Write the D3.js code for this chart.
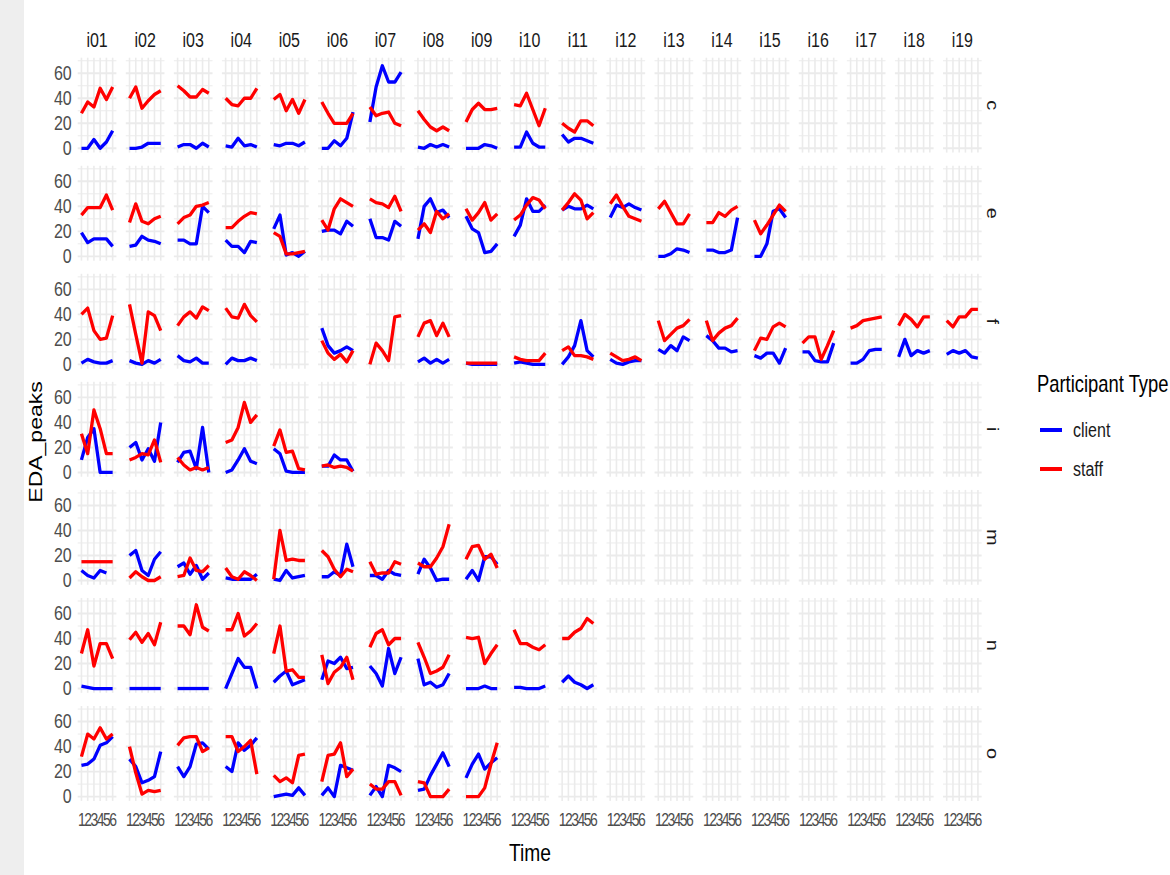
<!DOCTYPE html>
<html>
<head>
<meta charset="utf-8">
<script src="https://cdn.jsdelivr.net/npm/d3@7"></script>
<style>
  html, body { margin: 0; padding: 0; background: #ffffff; }
  svg { display: block; }
  text { font-family: "Liberation Sans", Arial, sans-serif; }
</style>
</head>
<body>
<svg id="chart" width="1170" height="875"></svg>
<script>
// ---------------- DATA ----------------
const rowKeys = ["c", "e", "f", "i", "m", "n", "o"];
const colKeys = ["i01","i02","i03","i04","i05","i06","i07","i08","i09","i10",
                 "i11","i12","i13","i14","i15","i16","i17","i18","i19"];
const times = [1, 2, 3, 4, 5, 6];
const yTickValues = [0, 20, 40, 60];
const participantTypes = ["client", "staff"];

// each row: one array per column (i01..), null = no data in that panel
const client_c = [[0,0,7,0,5,14],[0,0,1,4,4,4],[1,3,3,0,4,1],[2,1,8,2,3,1],[3,2,4,4,2,5],
  [0,0,6,2,8,29],[21,49,66,53,53,61],[1,0,3,1,3,1],[0,0,0,3,2,0],[1,1,13,4,1,1],[11,5,8,8,6,4]];
const staff_c = [[28,37,33,48,39,49],[40,49,32,38,43,46],[50,46,41,41,47,44],[40,35,34,40,40,48],
  [39,43,30,39,28,39],[37,28,20,20,20,28],[33,26,28,29,20,18],[30,23,17,14,17,14],
  [21,31,36,31,31,32],[35,34,44,31,18,32],[20,16,13,22,22,18]];

const client_e = [[19,11,14,14,14,8],[8,9,16,13,12,10],[13,13,10,10,40,35],[13,8,8,3,12,11],
  [22,33,1,3,0,4],[20,21,21,18,28,24],[30,15,15,13,28,24],[14,40,46,35,37,31],[32,22,19,3,4,10],
  [16,25,46,36,36,41],[37,40,38,38,41,38],[31,41,39,42,39,37],[0,0,2,6,5,3],[5,5,3,3,5,31],
  [0,0,10,36,38,31]];
const staff_e = [[33,39,39,39,49,37],[27,42,28,26,30,32],[26,31,33,40,41,43],[23,23,28,32,35,34],
  [19,16,2,2,3,4],[29,21,38,46,43,40],[46,43,42,39,48,36],[21,26,19,36,30,34],[38,29,35,43,29,34],
  [29,33,41,47,45,38],[37,43,50,45,30,35],[42,49,40,32,30,28],[38,44,35,26,26,34],
  [27,27,35,32,37,40],[29,18,25,33,41,36]];

const client_f = [[1,4,2,1,1,3],[3,1,0,3,1,4],[7,3,2,5,1,1],[0,5,3,3,5,3],null,
  [29,15,9,11,14,11],null,[2,5,1,4,1,4],[1,0,0,0,0,0],[1,2,1,0,0,0],[0,6,15,35,11,6],
  [4,1,0,2,3,3],[12,9,15,11,22,19],[23,19,13,13,10,11],[7,5,9,9,1,13],[10,10,3,2,2,17],
  [1,1,4,11,12,12],[6,20,7,11,9,11],[8,11,9,11,6,5]];
const staff_f = [[40,45,27,20,21,39],[48,24,1,42,39,27],[31,38,42,37,46,43],[45,38,37,48,39,34],null,
  [19,9,4,8,2,11],[0,17,11,3,38,39],[22,33,35,23,33,22],[1,1,1,1,1,1],[6,4,3,3,3,9],
  [11,14,7,7,6,4],[9,6,3,4,6,3],[35,19,24,29,31,36],[35,19,25,29,31,37],[11,21,20,30,33,30],
  [17,22,22,4,15,27],[29,31,35,36,37,38],[31,40,36,30,38,38],[35,30,38,38,44,44]];

const client_i = [[10,28,35,0,0,0],[20,24,10,19,9,40],[8,16,17,3,36,0],[0,2,10,19,9,7],
  [19,15,1,0,0,0],[5,5,14,10,10,1]];
const staff_i = [[31,15,50,35,15,15],[10,12,15,14,26,8],[12,6,2,4,2,4],[24,26,36,56,40,46],
  [21,34,16,17,3,2],[5,6,4,5,4,1]];

const client_m = [[8,4,2,8,6,null],[20,24,8,4,17,23],[11,14,5,12,1,6],[2,1,1,1,1,5],
  [1,0,8,2,3,4],[3,3,7,4,29,11],[4,4,1,8,5,4],[5,17,10,0,1,1],[1,8,0,19,19,13]];
const staff_m = [[15,15,15,15,15,15],[2,7,3,0,0,3],[3,4,18,8,7,12],[10,3,1,7,4,0],
  [1,40,16,17,16,16],[24,19,9,3,9,7],[15,5,6,6,15,13],[14,11,11,18,27,45],[17,27,28,17,21,10]];

const client_n = [[2,1,0,0,0,0],[0,0,0,0,0,0],[0,0,0,0,0,0],[0,12,24,17,17,0],[5,10,14,3,5,7],
  [7,22,20,25,16,17],[18,12,2,32,12,25],[24,3,5,1,3,12],[0,0,0,2,0,0],[1,1,0,0,0,2],
  [5,10,5,3,0,3]];
const staff_n = [[28,47,18,36,36,24],[39,45,37,44,35,53],[50,50,43,67,49,46],[47,47,60,42,46,52],
  [28,50,14,15,9,9],[27,4,13,17,25,7],[33,44,47,35,40,40],[37,25,12,14,17,27],
  [41,40,41,20,28,35],[47,36,36,33,31,35],[40,40,45,48,56,52]];

const client_o = [[25,26,30,41,43,48],[30,24,11,13,16,36],[24,16,24,42,43,38],[24,20,43,37,41,47],
  [0,1,2,1,7,1],[1,7,0,25,23,21],[1,8,0,25,23,20],[5,6,17,26,35,24],[15,26,34,22,27,31]];
const staff_o = [[32,50,46,55,46,50],[40,19,2,5,4,5],[41,47,48,48,36,39],[48,48,36,40,45,18],
  [17,12,15,11,33,34],[12,33,34,43,16,22],[10,6,6,12,12,1],[12,11,0,0,0,6],[0,0,0,7,26,43]];

const clientRows = [client_c, client_e, client_f, client_i, client_m, client_n, client_o];
const staffRows  = [staff_c, staff_e, staff_f, staff_i, staff_m, staff_n, staff_o];

// ---------------- LAYOUT ----------------
const W = 1170, H = 875;
const panelLeft0 = 77.7, colStep = 48.07, panelW = 38.7;
const panelTop0 = 57.7, rowStep = 108.05, panelH = 94.9;
const SX = 0.8; // horizontal compression of the glyphs in the reference
const colors = { client: "#0000FF", staff: "#FF0000" };
const gridCol = "#EBEBEB";

const svg = d3.select("#chart");
svg.append("rect").attr("width", W).attr("height", H).attr("fill", "#ffffff");
svg.append("rect").attr("x", 0).attr("y", 0).attr("width", 24).attr("height", H).attr("fill", "#EEEEEE");

const x = d3.scaleLinear().domain([0.4, 6.6]).range([0, panelW]);
const y = d3.scaleLinear().domain([-3.45, 72.45]).range([panelH, 0]);
const line = d3.line().defined(d => d != null).x((d, i) => x(times[i])).y(d => y(d));

const panelX = ci => panelLeft0 + ci * colStep;
const panelY = ri => panelTop0 + ri * rowStep;

rowKeys.forEach((rk, ri) => {
  colKeys.forEach((ck, ci) => {
    const g = svg.append("g").attr("transform", `translate(${panelX(ci)},${panelY(ri)})`);
    g.selectAll("line.hmin").data([10, 30, 50, 70]).join("line")
      .attr("x1", 0).attr("x2", panelW).attr("y1", d => y(d)).attr("y2", d => y(d))
      .attr("stroke", gridCol).attr("stroke-width", 1);
    g.selectAll("line.hmaj").data(yTickValues).join("line")
      .attr("x1", 0).attr("x2", panelW).attr("y1", d => y(d)).attr("y2", d => y(d))
      .attr("stroke", gridCol).attr("stroke-width", 1.9);
    g.selectAll("line.v").data(times).join("line")
      .attr("x1", d => x(d)).attr("x2", d => x(d)).attr("y1", 0).attr("y2", panelH)
      .attr("stroke", gridCol).attr("stroke-width", 1.6);

    const cRow = clientRows[ri], sRow = staffRows[ri];
    const series = [
      { type: "client", vals: ci < cRow.length ? cRow[ci] : null },
      { type: "staff", vals: ci < sRow.length ? sRow[ci] : null }
    ];
    series.forEach(s => {
      if (!s.vals) return;
      g.append("path").attr("d", line(s.vals)).attr("fill", "none")
        .attr("stroke", colors[s.type]).attr("stroke-width", 3.3)
        .attr("stroke-linejoin", "round");
    });
  });
});

// y axes on first column
rowKeys.forEach((rk, ri) => {
  const ax = svg.append("g").attr("transform", `translate(${panelLeft0 - 6},${panelY(ri)})`)
    .call(d3.axisLeft(y).tickValues(yTickValues).tickSize(0).tickPadding(0));
  ax.select(".domain").remove();
  ax.selectAll("text").attr("font-size", 20).attr("fill", "#4D4D4D")
    .attr("font-family", "Liberation Sans, Arial, sans-serif")
    .attr("transform", `scale(${SX},1)`);
});

// x axes on bottom row
const bottomY = panelY(rowKeys.length - 1) + panelH;
colKeys.forEach((ck, ci) => {
  const ax = svg.append("g").attr("transform", `translate(${panelX(ci)},${bottomY + 12})`)
    .call(d3.axisBottom(x).tickValues(times).tickFormat(d3.format("d")).tickSize(0).tickPadding(0));
  ax.select(".domain").remove();
  ax.selectAll("text").attr("font-size", 19).attr("fill", "#4D4D4D")
    .attr("font-family", "Liberation Sans, Arial, sans-serif")
    .attr("transform", `scale(${SX * 0.92},1)`);
});

function txt(str, px, py, opts) {
  const t = svg.append("text").text(str)
    .attr("transform", `translate(${px},${py}) scale(${SX},1)` + (opts.rotate ? ` rotate(${opts.rotate})` : ""))
    .attr("font-size", opts.size).attr("fill", opts.fill || "#1A1A1A")
    .attr("text-anchor", opts.anchor || "start");
  if (opts.dy) t.attr("dy", opts.dy);
  return t;
}

// column strips
colKeys.forEach((ck, ci) => {
  txt(ck, panelX(ci) + panelW / 2, 47, { size: 20, anchor: "middle" });
});
// row strips
rowKeys.forEach((rk, ri) => {
  txt(rk, 993, panelY(ri) + panelH / 2, { size: 20, anchor: "middle", rotate: 90, dy: "0.35em" });
});

// axis titles
txt("Time", 530, 861, { size: 24, anchor: "middle", fill: "#000000" });
txt("EDA_peaks", 42, 442, { size: 23, anchor: "middle", rotate: -90, fill: "#000000" });

// legend
txt("Participant Type", 1037, 392, { size: 23, fill: "#000000" });
const legendY = [430, 469];
participantTypes.forEach((p, i) => {
  svg.append("line").attr("x1", 1040).attr("x2", 1062)
    .attr("y1", legendY[i]).attr("y2", legendY[i])
    .attr("stroke", colors[p]).attr("stroke-width", 4);
  txt(p, 1073, legendY[i] + 7, { size: 20, fill: "#1A1A1A" });
});
</script>
</body>
</html>
